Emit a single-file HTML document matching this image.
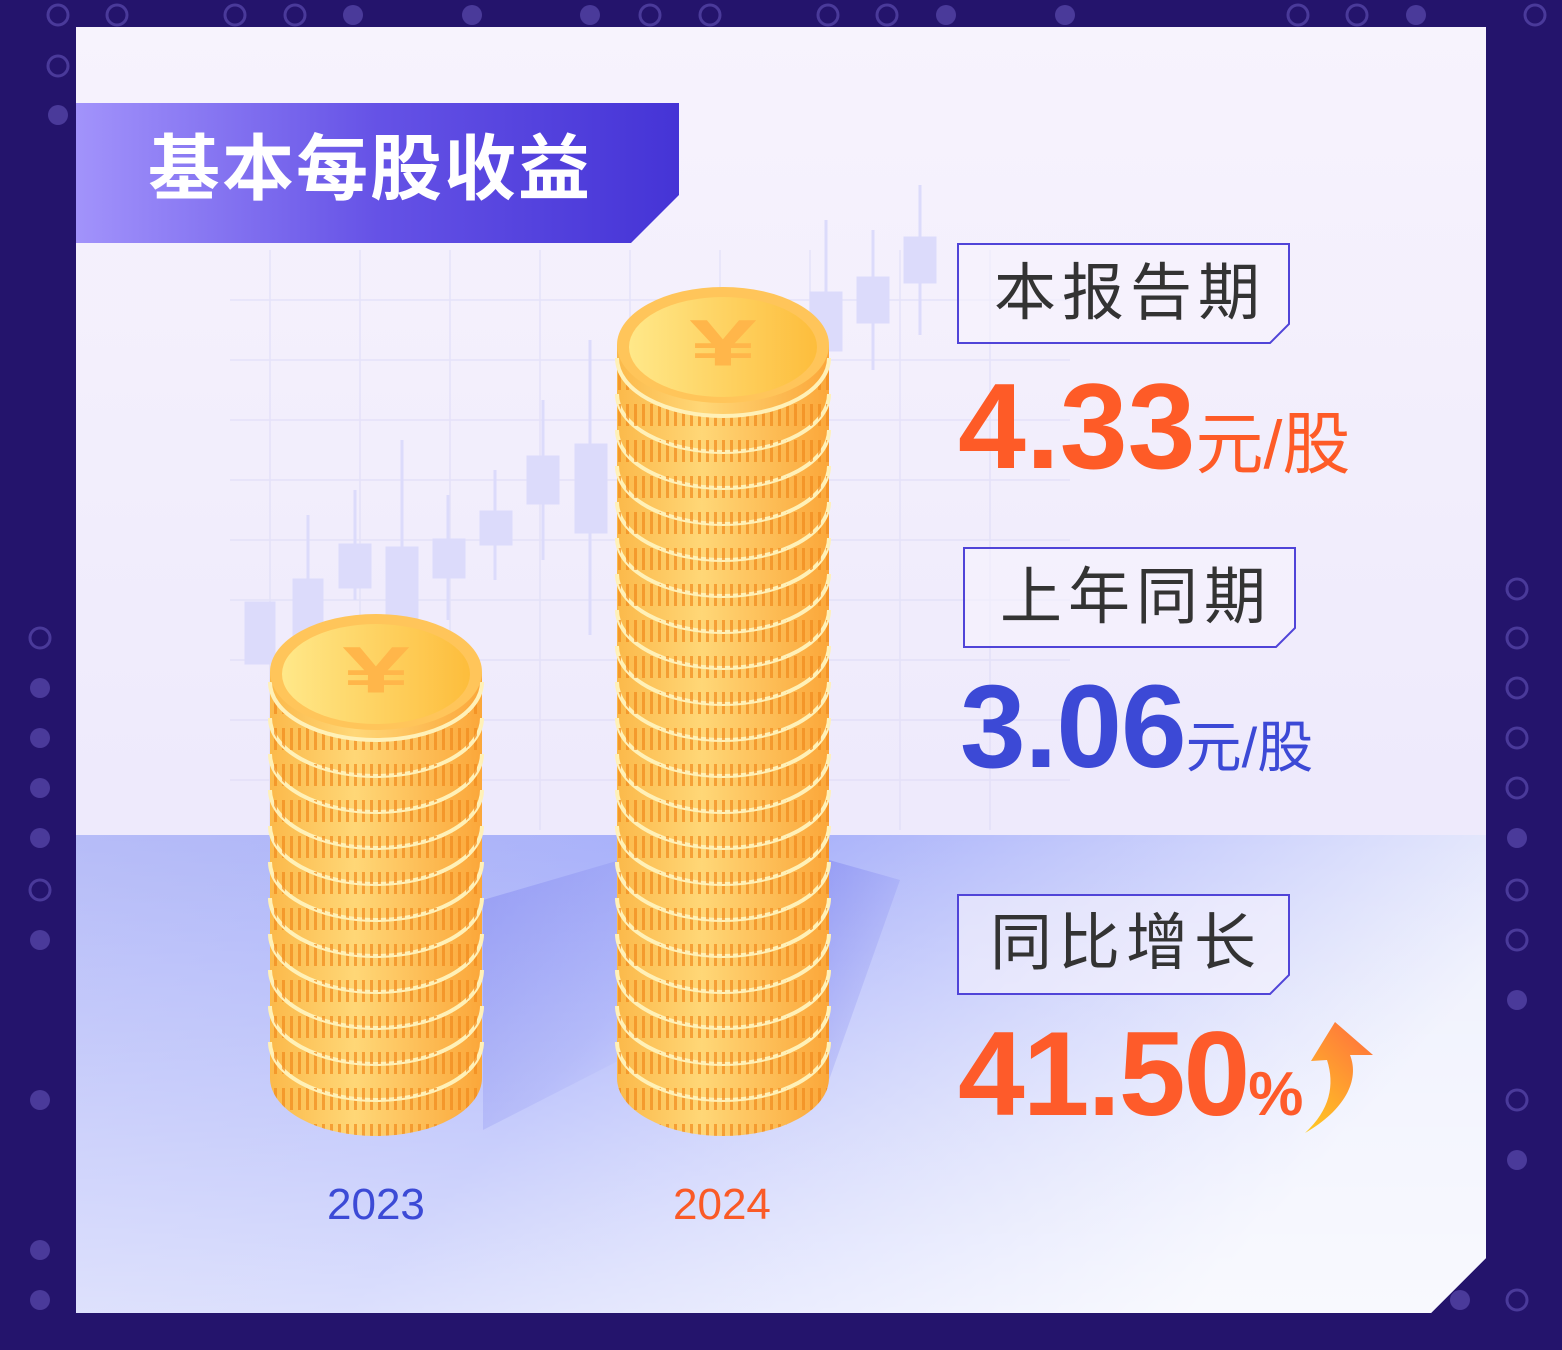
<!DOCTYPE html>
<html><head><meta charset="utf-8">
<style>
html,body{margin:0;padding:0;}
body{width:1562px;height:1350px;background:#24146c;position:relative;overflow:hidden;font-family:"Liberation Sans","Noto Sans CJK SC",sans-serif;}
.abs{position:absolute;}
.lbl{position:absolute;font-size:62px;color:#333;letter-spacing:6px;line-height:1;}
.num{position:absolute;font-weight:bold;line-height:1;white-space:nowrap;}
</style></head><body>
<svg class="abs" style="left:0;top:0" width="1562" height="1350">
<defs>
<linearGradient id="bg" x1="0" y1="0" x2="0" y2="1"><stop offset="0" stop-color="#f7f3fd"/><stop offset="1" stop-color="#e8e4fb"/></linearGradient>
<linearGradient id="fl" x1="0" y1="0" x2="1" y2="0.3"><stop offset="0" stop-color="#b6bcf8"/><stop offset="0.45" stop-color="#a6affa"/><stop offset="1" stop-color="#eef0fd"/></linearGradient>
<linearGradient id="fl2" x1="0" y1="0" x2="0" y2="1"><stop offset="0" stop-color="#fff" stop-opacity="0"/><stop offset="1" stop-color="#fff" stop-opacity="0.6"/></linearGradient>
<linearGradient id="tb" x1="0" y1="0" x2="1" y2="0"><stop offset="0" stop-color="#a293fb"/><stop offset="0.5" stop-color="#6552e6"/><stop offset="1" stop-color="#4534d6"/></linearGradient>
<linearGradient id="body" x1="0" y1="0" x2="1" y2="0"><stop offset="0" stop-color="#fbb94a"/><stop offset="0.4" stop-color="#ffd777"/><stop offset="1" stop-color="#fba73a"/></linearGradient>
<linearGradient id="face" x1="0" y1="0" x2="1" y2="0"><stop offset="0" stop-color="#ffe889"/><stop offset="1" stop-color="#fdbd3c"/></linearGradient>
<linearGradient id="arr" x1="0" y1="1" x2="0.6" y2="0"><stop offset="0" stop-color="#ffcb23"/><stop offset="1" stop-color="#ff7a3a"/></linearGradient>
<linearGradient id="sh" x1="0" y1="0" x2="1" y2="1"><stop offset="0" stop-color="#7b80ee" stop-opacity="0.45"/><stop offset="1" stop-color="#7b80ee" stop-opacity="0"/></linearGradient>
<pattern id="st" width="8" height="36" patternUnits="userSpaceOnUse"><rect x="2" y="8" width="3" height="22" fill="#f28a1c" opacity="0.7"/></pattern>
</defs>
<g fill="none" stroke="#4a3a9a" stroke-width="3">
<circle cx="58" cy="15" r="10"/><circle cx="117" cy="15" r="10"/><circle cx="58" cy="66" r="10"/><circle cx="235" cy="15" r="10"/><circle cx="295" cy="15" r="10"/><circle cx="650" cy="15" r="10"/><circle cx="710" cy="15" r="10"/><circle cx="828" cy="15" r="10"/><circle cx="887" cy="15" r="10"/><circle cx="1298" cy="15" r="10"/><circle cx="1357" cy="15" r="10"/><circle cx="1535" cy="15" r="10"/>
<circle cx="40" cy="638" r="10"/><circle cx="40" cy="890" r="10"/><circle cx="1517" cy="589" r="10"/><circle cx="1517" cy="638" r="10"/><circle cx="1517" cy="688" r="10"/><circle cx="1517" cy="738" r="10"/><circle cx="1517" cy="788" r="10"/><circle cx="1517" cy="890" r="10"/><circle cx="1517" cy="940" r="10"/><circle cx="1517" cy="1100" r="10"/><circle cx="1517" cy="1300" r="10"/>
</g>
<g fill="#4a3a9a">
<circle cx="58" cy="115" r="10"/><circle cx="353" cy="15" r="10"/><circle cx="472" cy="15" r="10"/><circle cx="590" cy="15" r="10"/><circle cx="946" cy="15" r="10"/><circle cx="1065" cy="15" r="10"/><circle cx="1416" cy="15" r="10"/>
<circle cx="40" cy="688" r="10"/><circle cx="40" cy="738" r="10"/><circle cx="40" cy="788" r="10"/><circle cx="40" cy="838" r="10"/><circle cx="40" cy="940" r="10"/><circle cx="40" cy="1100" r="10"/><circle cx="40" cy="1250" r="10"/><circle cx="40" cy="1300" r="10"/><circle cx="1517" cy="838" r="10"/><circle cx="1517" cy="1000" r="10"/><circle cx="1517" cy="1160" r="10"/><circle cx="1460" cy="1300" r="10"/>
</g>
<path d="M76 27H1486V1258L1431 1313H76Z" fill="url(#bg)"/>
<path d="M76 835H1486V1258L1431 1313H76Z" fill="url(#fl)"/>
<path d="M76 835H1486V1258L1431 1313H76Z" fill="url(#fl2)"/>
<g stroke="#dcdaf7" stroke-width="1.5" opacity="0.6">
<path d="M230 300H1070M230 360H1070M230 420H1070M230 480H1070M230 540H1070M230 600H1070M230 660H1070M230 720H1070M230 780H1070M270 250V830M360 250V830M450 250V830M540 250V830M630 250V830M720 250V830M810 250V830M900 250V830M990 250V830"/>
</g>
<g fill="#dcdbfb" stroke="#dcdbfb" stroke-width="3">
<rect x="246" y="603" width="28" height="60"/><rect x="294" y="580" width="28" height="60"/><rect x="340" y="545" width="30" height="42"/><rect x="387" y="548" width="30" height="70"/><path d="M402 440V640M355 490V600M308 515V650M448 495V620M495 470V580M543 400V560M590 340V635M826 220V360M873 230V370M920 185V335"/><rect x="434" y="540" width="30" height="37"/><rect x="481" y="512" width="30" height="32"/><rect x="528" y="457" width="30" height="46"/><rect x="576" y="445" width="30" height="87"/><rect x="811" y="293" width="30" height="57"/><rect x="858" y="278" width="30" height="44"/><rect x="905" y="238" width="30" height="44"/>
</g>
<path d="M483 900L620 860L620 1060L483 1130Z" fill="url(#sh)"/>
<path d="M829 860L900 880L829 1080Z" fill="url(#sh)"/>
<path d="M76 103H679V195L631 243H76Z" fill="url(#tb)"/>
<g id="stacks"></g>
<g fill="#f6f4fe" fill-opacity="0.6" stroke="#5044d8" stroke-width="2">
<path d="M958 244H1289V324L1270 343H958Z"/>
<path d="M964 548H1295V628L1276 647H964Z"/>
<path d="M958 895H1289V975L1270 994H958Z"/>
</g>
<path d="M1305 1133C1345 1110 1360 1080 1350 1055L1373 1055L1335 1022L1311 1061L1327 1060C1335 1085 1330 1110 1305 1133Z" fill="url(#arr)"/>
</svg>
<div class="abs" style="left:148px;top:134px;font-size:72px;font-weight:bold;color:#fff;letter-spacing:2px;line-height:1;">基本每股收益</div>
<div class="lbl" style="left:994px;top:263px;">本报告期</div>
<div class="lbl" style="left:1000px;top:567px;">上年同期</div>
<div class="lbl" style="left:990px;top:913px;">同比增长</div>
<div class="num" style="left:958px;top:365px;color:#fe5b27;font-size:122px;letter-spacing:0px;">4.33<span style="font-size:68px;font-weight:normal;">元/股</span></div>
<div class="num" style="left:960px;top:668px;color:#3c49d6;font-size:118px;letter-spacing:-1px;">3.06<span style="font-size:56px;font-weight:normal;letter-spacing:0">元/股</span></div>
<div class="num" style="left:958px;top:1014px;color:#fe5b2a;font-size:120px;letter-spacing:-2px;">41.50<span style="font-size:62px;letter-spacing:0">%</span></div>
<div class="abs" style="left:327px;top:1180px;font-size:44px;color:#3c4ad6;">2023</div>
<div class="abs" style="left:673px;top:1180px;font-size:44px;color:#fa5a27;">2024</div>
<script>
function stack(cx,top,bot){
  var rx=106,ry=58,s='';
  s+='<path d="M'+(cx-rx)+' '+top+'V'+bot+'A'+rx+' '+ry+' 0 0 0 '+(cx+rx)+' '+bot+'V'+top+'Z" fill="url(#body)"/>';
  var h=36;
  for(var y=bot;y>top+20;y-=h){
    s+='<path d="M'+(cx-rx)+' '+(y-h)+'V'+y+'A'+rx+' '+ry+' 0 0 0 '+(cx+rx)+' '+y+'V'+(y-h)+'A'+rx+' '+ry+' 0 0 1 '+(cx-rx)+' '+(y-h)+'Z" fill="url(#st)"/>';
    s+='<path d="M'+(cx-rx)+' '+(y-h)+'A'+rx+' '+ry+' 0 0 0 '+(cx+rx)+' '+(y-h)+'" fill="none" stroke="#fff1b8" stroke-width="4"/>';
  }
  s+='<ellipse cx="'+cx+'" cy="'+top+'" rx="'+rx+'" ry="'+ry+'" fill="#ffc55a"/>';
  s+='<ellipse cx="'+cx+'" cy="'+(top+2)+'" rx="'+(rx-12)+'" ry="'+(ry-8)+'" fill="url(#face)"/>';
  s+='<text x="'+cx+'" y="'+(top+34)+'" font-size="110" font-weight="bold" text-anchor="middle" fill="#ffb64a" transform="translate('+cx+','+(top)+') scale(1.1,0.6) translate('+(-cx)+','+(-top)+')" font-family="Liberation Sans,sans-serif">¥</text>';
  return s;
}
document.getElementById('stacks').innerHTML=stack(376,672,1078)+stack(723,345,1078);
</script>
</body></html>
